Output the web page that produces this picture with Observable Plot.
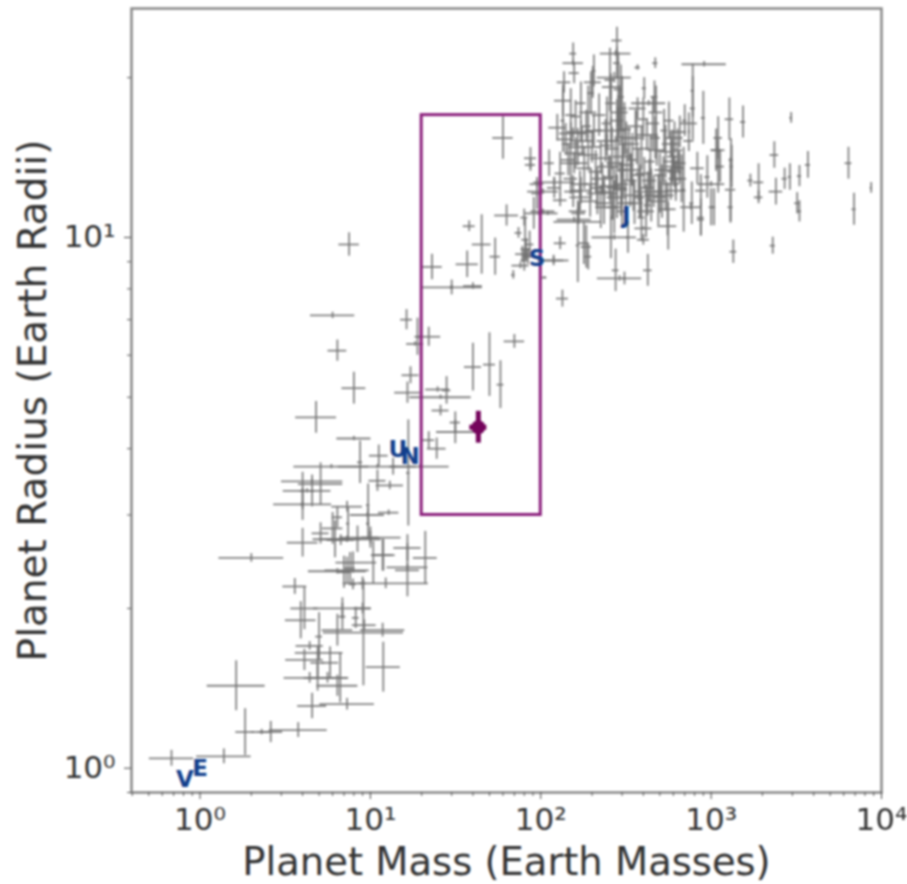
<!DOCTYPE html>
<html>
<head>
<meta charset="utf-8">
<script src="https://cdn.jsdelivr.net/npm/d3@7"></script>
<script src="https://cdn.jsdelivr.net/npm/@observablehq/plot@0.6"></script>
<style>
html,body{margin:0;padding:0;background:#fff}
svg{display:block;filter:blur(1px);overflow:visible}
</style>
</head>
<body>
<div id="chart"></div>
<script>
// Each row: [mass (Earth masses), mass error (dex), radius (Earth radii), radius error (dex)]
const rockyPlanets = [
[0.68,.13,1.044,.015],[1.38,.16,1.053,.014],[1.84,.055,1.17,.044],[1.63,.17,1.43,.047],[2.6,.07,1.17,.02],
[2.3,.06,1.17,.005],[3.77,.17,1.18,.014],[4.55,.085,1.31,.024],[7.3,.16,1.32,.011],[11.9,.1,1.55,.047],
[9.1,.235,1.8,.1],[11.8,.13,1.82,.013],[6.4,.12,1.43,.02],[6.65,.05,1.48,.047],[4.4,.15,1.48,.01],
[5.6,.12,1.48,.01],[5,.14,1.65,.01],[4.1,.11,1.6,.02],[4.4,.08,1.7,.008],[4.9,.04,1.58,.03],
[5.8,.05,1.58,.03],[4.9,.08,1.48,.025],[5,.02,1.77,.045],[4.1,.08,2,.04],[3.9,.09,1.9,.035],
[3.6,.07,2.2,.015],[6.85,.17,2,.02],[6.4,.09,1.82,.03],[9,.05,2,.01],[9.2,.07,1.86,.01],
[8.2,.02,1.92,.02],[6.85,.02,1.93,.025]
];
const subNeptunes = [
[2,.19,2.49,.008],[4,.09,2.66,.027],[5.1,.05,2.77,.02],[6.2,.09,2.7,.035],[6.7,.08,2.69,.01],
[7.3,.2,2.7,.006],[8.4,.02,2.7,.025],[10,.18,2.72,.02],[10,.05,2.72,.012],[9.7,.01,2.89,.03],
[7.4,.01,2.89,.03],[6,.06,2.83,.03],[11.9,.07,2.52,.03],[10.4,.02,2.44,.04],[7.9,.1,2.44,.02],
[7.3,.13,2.36,.025],[6.4,.17,2.35,.005],[7,.04,2.34,.03],[7.6,.03,2.38,.03],[16.5,.08,2.6,.025],
[16.5,.07,2.36,.05],[16.5,.12,2.39,.006],[21,.07,2.49,.05],[12.3,.25,2.23,.01],[11.8,.06,2.52,.03],
[9,.02,2.23,.012],[7.9,.02,2.22,.01],[4.55,.18,3.47,.004],[5.1,.13,3.43,.04],[4.25,.14,3.33,.004],
[4.55,.015,3.33,.03],[4,.015,3.33,.035],[4,.17,3.14,.004],[4,.01,3.14,.03],[11,.05,3.48,.02],
[13,.08,3.41,.008],[9.7,.01,3.13,.04],[7.3,.09,3.11,.01],[12.8,.06,3.03,.005],[9.6,.1,3,.004],
[6.4,.03,2.97,.02]
];
const neptunes = [
[7.5,.06,9.7,.022],[6,.13,7.13,.006],[16.3,.035,7,.019],[18.9,.015,6.5,.035],[22,.07,6.5,.018],
[18.3,.05,6.3,.004],[6.4,.055,6.12,.02],[8,.07,5.2,.03],[4.8,.12,4.58,.03],[17.2,.05,5.5,.016],
[16.5,.075,5.1,.02],[24.8,.07,5.17,.005],[28,.025,5.15,.026],[25.8,.18,5,.004],[25.8,.05,4.72,.01],
[40,.05,5.7,.045],[50,.035,5.76,.06],[70,.06,6.37,.013],[58,.02,5.28,.045],[31.5,.03,4.48,.02],
[31.5,.11,4.3,.022],[22,.035,4.15,.016],[24.5,.055,4,.02],[8,.1,4.18,.004],[8.7,.015,3.77,.04],
[11.2,.055,3.88,.02],[5.9,.22,3.7,.004],[11,.23,3.7,.004],[13.6,.02,3.7,.016],[16.7,.01,3.6,.1],
[19.6,.17,3.7,.004]
];
const saturns = [
[38,.035,10.5,.01],[45,.055,9.7,.056],[54,.03,9.2,.035],[37,.065,8.9,.025],[23,.06,8.8,.024],
[30,.18,8.05,.004],[30,.01,8.05,.014],[40,.055,8.1,.006],[63,.07,11,.02],[80,.02,10.9,.016],
[91,.05,11.1,.03],[110,.06,11.1,.004],[74,.02,10.2,.01],[81,.02,9.9,.04],[80,.02,9.05,.02],
[84,.03,9.2,.015],[76,.05,8.85,.006],[69,.01,8.5,.008],[119,.06,9.05,.01],[105,.015,8.4,.002],
[60,.06,15.4,.04],[87,.035,14.1,.02],[112,.03,13.8,.025],[87,.03,13.7,.012],[95,.04,12.6,.006],
[120,.12,12.7,.008],[103,.09,12.2,.005],[95,.03,12.1,.03],[120,.04,12.4,.02],[103,.07,11.2,.004],
[130,.035,9.75,.012],[119,.09,9.05,.006],[134,.035,7.67,.016],[82,.03,9.5,.02],[78,.04,9.3,.015],
[86,.025,9.7,.025]
];
const lowerGiants = [
[165,.01,9.66,.07],[179,.03,9.75,.04],[190,.02,9.2,.025],[165,.14,10.7,.005],[165,.05,11.2,.02],
[270,.13,10,.005],[325,.01,10,.03],[258,.01,10,.04],[275,.02,8.67,.04],[290,.13,8.37,.005],
[310,.01,8.37,.012],[425,.025,8.67,.03],[400,.035,9.9,.01],[400,.05,10.4,.003],[560,.05,10.5,.045],
[690,.01,12.3,.08],[870,.02,10.8,.03],[1040,.01,11.4,.035],[157,.1,10.8,.005],[167,.04,11.1,.02],
[185,.03,9.6,.04],[390,.02,10.9,.045],[258,.04,11.4,.025],[172,.06,12.25,.025],[130,.04,11.75,.012],
[197,.04,12.6,.03],[280,.06,12.4,.025],[425,.04,12.4,.03],[425,.02,11.5,.02],[580,.05,12.6,.03],
[155,.05,12.2,.03],[170,.06,11.9,.025],[195,.05,11.7,.03],[215,.06,12.1,.04],[235,.05,11.6,.04],
[255,.06,12.5,.03],[270,.04,11.4,.05],[280,.06,11.9,.04],[295,.04,12.3,.05],[315,.05,11.6,.04],
[335,.04,12.8,.05],[355,.05,11.6,.04],[385,.04,12.2,.05],[415,.05,11.2,.05],[445,.04,12,.05],
[490,.05,11.7,.05],[515,.04,12.2,.05],[555,.05,11.3,.05]
];
const tallGiants = [
[155,.02,22.2,.02],[155,.06,21.3,.005],[157,.03,20.4,.02],[137,.04,19.6,.02],[205,.012,20.6,.03],
[202,.05,19.6,.03],[280,.03,23.5,.025],[275,.09,22.2,.005],[280,.02,21.3,.03],[270,.1,20,.01],
[258,.05,19.2,.025],[430,.1,17.9,.005],[370,.05,17.5,.02],[465,.02,18.4,.03],[135,.05,18.1,.03],
[125,.05,16.1,.025],[135,.012,16.6,.06],[172,.03,17.9,.04],[197,.02,18.7,.04],[258,.03,17.9,.045],
[295,.02,18.4,.06],[155,.08,15.7,.01],[172,.08,15.8,.02],[160,.06,14.4,.03],[258,.09,15.9,.025],
[280,.04,16.6,.04],[318,.04,15.4,.03],[530,.02,15.9,.04],[610,.05,15.4,.03],[910,.13,21.2,.005],
[780,.01,18.9,.05],[470,.015,21.3,.01],[370,.015,20.9,.005],[405,.012,19.1,.02],[255,.03,19.8,.06],
[285,.025,19,.07],[300,.03,17.5,.06],[190,.05,17.2,.05],[150,.03,17,.05],[475,.04,17.2,.05]
];
const denseGiants = [
[525,.05,13.4,.025],[340,.06,13.4,.03],[250,.06,13.6,.02],[157,.08,13.8,.02],[150,.05,15,.04],
[145,.04,14,.03],[165,.05,14.8,.035],[180,.04,13.5,.04],[190,.06,14.3,.03],[175,.07,15.2,.025],
[200,.05,14.8,.03],[210,.04,13.3,.04],[225,.06,14.1,.03],[240,.05,15.2,.04],[245,.03,16.4,.05],
[262,.04,14.7,.04],[275,.05,13.8,.05],[285,.03,15.2,.06],[300,.05,14.2,.04],[310,.04,16,.05],
[330,.06,15,.03],[345,.03,14,.05],[360,.05,16.2,.03],[375,.04,13.1,.05],[390,.05,14.7,.04],
[400,.03,16.7,.04],[420,.06,15.6,.03],[440,.03,13.9,.05],[455,.04,16.4,.05],[480,.05,14.6,.03],
[500,.03,13.1,.04],[540,.04,14.5,.05],[565,.03,16.6,.035],[590,.05,13.9,.04],[620,.04,12.9,.03],
[635,.03,14.6,.04],[655,.04,15.8,.03],[670,.03,12.9,.045],[150,.04,12.9,.03],[170,.05,12.6,.025],
[185,.03,16.2,.03],[215,.04,12.4,.04],[230,.06,12.9,.03],[265,.03,12.1,.05],[300,.04,12.6,.04],
[350,.05,12,.03],[380,.03,11.9,.04],[460,.05,12.2,.03],[500,.04,11.9,.03],[540,.05,12,.03],
[225,.03,11.4,.04],[300,.03,11.2,.03],[205,.05,15.9,.03],[220,.04,17,.04],[235,.05,12.2,.03],
[290,.05,17.2,.05],[305,.03,13.4,.05],[320,.04,13.7,.03],[255,.03,13,.04],[245,.04,14.9,.02],
[160,.03,16.9,.03],[140,.05,15.3,.03],[130,.03,13.2,.04],[595,.03,14.2,.05],[610,.04,13.3,.03],
[650,.03,13.5,.03],[470,.03,15.4,.04],[435,.04,12.8,.04],[405,.05,13.2,.03],[365,.03,15.4,.05]
];
const massiveGiants = [
[1300,.03,12.3,.06],[1300,.015,11.4,.03],[1350,.02,9.4,.022],[2300,.015,9.65,.016],[1900,.025,11.9,.012],
[1900,.03,12.7,.035],[1700,.015,12.8,.012],[2400,.04,12.2,.025],[2350,.025,14.3,.025],[2700,.015,12.9,.02],
[2900,.01,13,.025],[3300,.012,13.05,.02],[3700,.015,13.7,.025],[3200,.015,11.6,.02],[3300,.012,11.2,.02],
[2950,.008,16.8,.01],[6400,.02,13.8,.03],[6900,.012,11.3,.03],[8700,.006,12.4,.01],[1540,.015,16.5,.03],
[1280,.025,16.7,.04],[1070,.03,14.6,.04],[1100,.015,13.6,.05],[1320,.01,13.6,.04],[780,.015,17.5,.06],
[900,.012,16.8,.05],[700,.012,16.6,.03],[740,.05,16.4,.02],[740,.03,15.2,.02],[580,.05,15,.025],
[600,.05,13.6,.025],[650,.04,13.8,.022],[620,.06,12.25,.02],[870,.03,12.25,.03],[760,.06,11.4,.005],
[770,.012,11.6,.04],[870,.02,10.9,.035],[1000,.012,11.4,.035],[1100,.025,15.4,.04],[1100,.04,14.6,.005],
[1130,.025,13.6,.03],[1310,.012,14,.04],[1000,.08,12.6,.005],[830,.04,13.5,.03],[950,.015,13,.04]
];
const solarNames = ["V","E","U","N","S","J"];
const solarMass = [0.815,1,14.5,17.1,95,318];
const solarRadius = [0.95,1,3.98,3.86,9.14,11];
const targetMass = 43, targetMassErr = .05, targetRadius = 4.39, targetRadiusErr = .03;
const boxMass = [20,100], boxRadius = [3,17];
const majorX = [1,10,100,1000,10000], majorY = [1,10];
const minorX = [.4,.5,.6,.7,.8,.9,2,3,4,5,6,7,8,9,20,30,40,50,60,70,80,90,200,300,400,500,600,700,800,900,2000,3000,4000,5000,6000,7000,8000,9000];
const minorY = [.9,2,3,4,5,6,7,8,9,20];
const supers = "⁰¹²³⁴";
const fmt = d => "10" + supers[Math.round(Math.log10(d))];

const planets = [...rockyPlanets,...subNeptunes,...neptunes,...saturns,...lowerGiants,...tallGiants,...denseGiants,...massiveGiants]
  .map(([m,dm,r,dr]) => ({m,r,m1:m/10**dm,m2:m*10**dm,r1:r/10**dr,r2:r*10**dr}));
const solar = solarNames.map((n,i)=>({n,m:solarMass[i],r:solarRadius[i]}));
const target = [{m:targetMass,r:targetRadius,m1:targetMass/10**targetMassErr,m2:targetMass*10**targetMassErr,r1:targetRadius/10**targetRadiusErr,r2:targetRadius*10**targetRadiusErr}];
const ink = "#333";
const chart = Plot.plot({
  width:907,height:884,marginLeft:131,marginRight:26,marginTop:8,marginBottom:92,
  style:{fontFamily:"'DejaVu Sans',sans-serif",background:"#fff",color:ink},
  x:{type:"log",domain:[0.396,10000]},
  y:{type:"log",domain:[0.90,27]},
  marks:[
    Plot.ruleY(planets,{y:"r",x1:"m1",x2:"m2",stroke:"#6e6e6e",strokeWidth:1.8,strokeOpacity:.85}),
    Plot.ruleX(planets,{x:"m",y1:"r1",y2:"r2",stroke:"#6e6e6e",strokeWidth:1.8,strokeOpacity:.85}),
    Plot.rect([0],{x1:()=>boxMass[0],x2:()=>boxMass[1],y1:()=>boxRadius[0],y2:()=>boxRadius[1],fill:"none",stroke:"#8b1f7c",strokeWidth:3}),
    Plot.ruleY(target,{y:"r",x1:"m1",x2:"m2",stroke:"#75045c",strokeWidth:5}),
    Plot.ruleX(target,{x:"m",y1:"r1",y2:"r2",stroke:"#75045c",strokeWidth:5}),
    Plot.dot(target,{x:"m",y:"r",r:7,fill:"#75045c"}),
    Plot.text(solar,{x:"m",y:"r",text:"n",fill:"#133f8c",fontWeight:"bold",fontSize:23}),
    Plot.frame({stroke:"#888",strokeWidth:2.5}),
    Plot.axisX({ticks:minorX,tickFormat:()=>"",tickSize:4,label:null,stroke:"#555"}),
    Plot.axisY({ticks:minorY,tickFormat:()=>"",tickSize:4,label:null,stroke:"#555"}),
    Plot.axisX({ticks:majorX,tickFormat:fmt,tickSize:7,tickPadding:8,fontSize:31,label:null,stroke:"#444",fill:ink}),
    Plot.axisY({ticks:majorY,tickFormat:fmt,tickSize:7,tickPadding:9,fontSize:31,label:null,stroke:"#444",fill:ink}),
    Plot.text(["Planet Mass (Earth Masses)"],{frameAnchor:"bottom",dy:82,fontSize:38.5,fill:ink}),
    Plot.text(["Planet Radius (Earth Radii)"],{frameAnchor:"left",dx:-98,textAnchor:"middle",rotate:-90,fontSize:39,fill:ink})
  ]
});
document.getElementById("chart").appendChild(chart);
</script>
</body>
</html>
